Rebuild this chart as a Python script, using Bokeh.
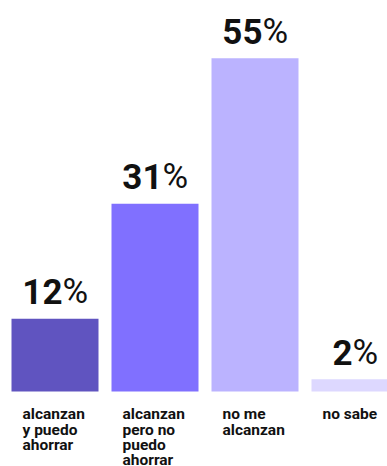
from bokeh.plotting import figure
from bokeh.models import Range1d, ColumnDataSource
from bokeh.core.properties import value
from bokeh.embed import file_html
from bokeh.resources import INLINE

categories = ["alcanzan\ny puedo\nahorrar", "alcanzan\npero no\npuedo\nahorrar", "no me\nalcanzan", "no sabe"]
values = [12, 31, 55, 2]
colors = ["#6054C0", "#8070FF", "#BBB3FF", "#DDD8FF"]

xs = list(range(len(values)))
num_labels = [str(v) for v in values]
# offset so "NN%" is centred as a whole on the bar
num_offsets = [(len(s) * 20 - 25) / 2 for s in num_labels]

src = ColumnDataSource(dict(x=xs, top=values, color=colors, num=num_labels,
                            pct=["%"] * len(values), off=num_offsets, cat=categories))

p = figure(width=387, height=466, output_backend="svg", toolbar_location=None,
           x_range=Range1d(-0.545, 3.325), y_range=Range1d(-12.38, 64.52),
           min_border=0, outline_line_color=None)
p.xaxis.visible = False
p.yaxis.visible = False
p.xgrid.visible = False
p.ygrid.visible = False
p.background_fill_color = "white"
p.border_fill_color = "white"

p.vbar(x="x", top="top", bottom=0, width=0.87, color="color", line_color=None, source=src)

p.text(x="x", y="top", text="num", source=src, x_offset="off", y_offset=-27,
       text_align="right", text_baseline="alphabetic",
       text_font=value("Roboto"), text_font_style="bold", text_font_size="35px", text_color="#111111")
p.text(x="x", y="top", text="pct", source=src, x_offset="off", y_offset=-27,
       text_align="left", text_baseline="alphabetic",
       text_font=value("Roboto"), text_font_style="normal", text_font_size="35px", text_color="#111111")

p.text(x="x", y=0, text="cat", source=src, x_offset=-32.5, y_offset=14,
       text_align="left", text_baseline="top", text_line_height=0.85,
       text_font=value("Roboto"), text_font_style="bold", text_font_size="15.5px", text_color="#111111")

open("out.html", "w").write(file_html(p, INLINE))
